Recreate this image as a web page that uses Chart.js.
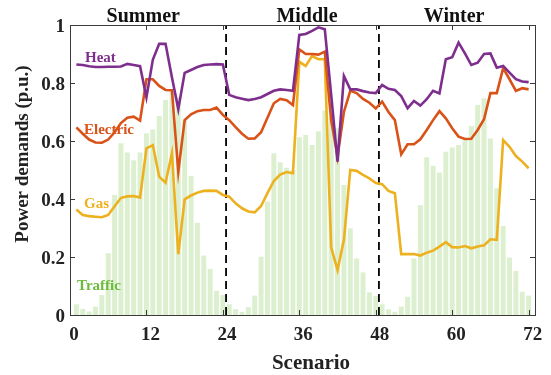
<!DOCTYPE html>
<html>
<head>
<meta charset="utf-8">
<script src="https://cdn.jsdelivr.net/npm/chart.js@4.4.1/dist/chart.umd.min.js"></script>
<style>
html,body{margin:0;padding:0;background:#fff;}
#c{display:block;}
</style>
</head>
<body>
<canvas id="c" width="551" height="375"></canvas>
<script>
// ---- data ----
const scenarios = Array.from({length: 72}, (_, i) => i + 1);
const heat = [
  0.864,0.862,0.858,0.855,0.855,0.856,0.856,0.857,0.866,0.862,0.858,0.750,
  0.880,0.935,0.935,0.820,0.710,0.835,0.845,0.855,0.862,0.864,0.865,0.864,
  0.759,0.751,0.746,0.741,0.745,0.751,0.762,0.773,0.778,0.776,0.773,0.966,
  0.969,0.980,0.992,0.985,0.760,0.529,0.824,0.778,0.778,0.772,0.767,0.765,
  0.793,0.780,0.776,0.755,0.713,0.738,0.722,0.744,0.773,0.764,0.882,0.889,
  0.939,0.902,0.862,0.870,0.900,0.902,0.853,0.859,0.836,0.813,0.805,0.803
];
const electric = [
  0.647,0.625,0.605,0.595,0.594,0.605,0.630,0.662,0.680,0.684,0.670,0.813,
  0.813,0.790,0.776,0.775,0.494,0.672,0.692,0.703,0.707,0.707,0.715,0.690,
  0.672,0.648,0.625,0.608,0.609,0.630,0.680,0.730,0.745,0.741,0.724,0.916,
  0.900,0.900,0.898,0.908,0.672,0.545,0.700,0.773,0.765,0.745,0.732,0.712,
  0.736,0.700,0.672,0.554,0.589,0.589,0.606,0.638,0.672,0.703,0.678,0.644,
  0.615,0.607,0.608,0.638,0.675,0.765,0.765,0.851,0.813,0.773,0.782,0.778
];
const gas = [
  0.364,0.345,0.341,0.339,0.337,0.345,0.375,0.404,0.409,0.410,0.405,0.575,
  0.586,0.477,0.456,0.557,0.210,0.399,0.412,0.422,0.428,0.429,0.428,0.414,
  0.408,0.385,0.368,0.357,0.354,0.376,0.420,0.462,0.484,0.493,0.489,0.873,
  0.859,0.893,0.882,0.882,0.233,0.155,0.259,0.500,0.497,0.483,0.471,0.455,
  0.451,0.428,0.420,0.210,0.210,0.210,0.205,0.215,0.222,0.236,0.251,0.234,
  0.233,0.238,0.230,0.236,0.240,0.261,0.259,0.603,0.580,0.548,0.529,0.506
];
const traffic = [
  0.037,0.021,0.012,0.029,0.069,0.213,0.414,0.592,0.560,0.534,0.560,0.627,
  0.640,0.686,0.741,0.770,0.750,0.672,0.479,0.318,0.205,0.159,0.083,0.069,
  0.037,0.020,0.011,0.027,0.067,0.201,0.391,0.558,0.527,0.508,0.500,0.613,
  0.621,0.586,0.634,0.705,0.680,0.644,0.448,0.299,0.195,0.147,0.078,0.066,
  0.037,0.020,0.011,0.029,0.063,0.195,0.379,0.544,0.515,0.491,0.563,0.578,
  0.586,0.603,0.652,0.724,0.747,0.609,0.437,0.307,0.198,0.152,0.080,0.067
];
const xTicks = [0, 12, 24, 36, 48, 60, 72];
const yTicks = [0, 0.2, 0.4, 0.6, 0.8, 1];
const yTickLabels = ['0', '0.2', '0.4', '0.6', '0.8', '1'];
const seasonNames = ['Summer', 'Middle', 'Winter'];
const seasonBounds = [24.5, 48.5];
const seriesNames = ['Heat', 'Electric', 'Gas', 'Traffic'];

// ---- styles ----
const C_HEAT = '#7E2F8E', C_ELEC = '#D95319', C_GAS = '#EDB120', C_TRAF = 'rgb(108,186,60)';
const C_BAR = 'rgb(220,240,208)';
const FONT = "'Liberation Serif', 'Times New Roman', serif";

const pts = arr => arr.map((v, i) => ({x: scenarios[i], y: v}));
const lineDs = (label, arr, color, order) => ({
  type: 'line', label, data: pts(arr), borderColor: color, backgroundColor: color,
  borderWidth: 2.6, pointRadius: 0, tension: 0, fill: false, order
});
const dashDs = (xv) => ({
  type: 'line', label: 'b' + xv, data: [{x: xv, y: 0}, {x: xv, y: 1}],
  borderColor: '#000', borderWidth: 1.8, borderDash: [8, 5], pointRadius: 0, fill: false, order: 3
});

const decor = {
  id: 'decor',
  afterDatasetsDraw(chart) {
    const {ctx, chartArea: a, scales: {x, y}} = chart;
    ctx.save();
    ctx.strokeStyle = '#3a3a3a';
    ctx.lineWidth = 1;
    ctx.strokeRect(Math.round(a.left) + 0.5, Math.round(a.top) + 0.5,
                   Math.round(a.right - a.left), Math.round(a.bottom - a.top));
    const tl = 5;
    ctx.beginPath();
    xTicks.forEach(v => {
      const px = Math.round(x.getPixelForValue(v)) + 0.5;
      ctx.moveTo(px, a.bottom); ctx.lineTo(px, a.bottom - tl);
      ctx.moveTo(px, a.top); ctx.lineTo(px, a.top + tl);
    });
    yTicks.forEach(v => {
      const py = Math.round(y.getPixelForValue(v)) + 0.5;
      ctx.moveTo(a.left, py); ctx.lineTo(a.left + tl, py);
      ctx.moveTo(a.right, py); ctx.lineTo(a.right - tl, py);
    });
    ctx.stroke();

    // season labels
    ctx.fillStyle = '#111';
    ctx.font = 'bold 20px ' + FONT;
    ctx.textAlign = 'center';
    ctx.textBaseline = 'alphabetic';
    const seasonX = [11.5, 37.2, 60.3];
    seasonNames.forEach((s, i) => ctx.fillText(s, x.getPixelForValue(seasonX[i]), 22));

    // series labels
    ctx.font = 'bold 15px ' + FONT;
    ctx.textAlign = 'left';
    const lab = [[C_HEAT, 85, 62], [C_ELEC, 84, 134], [C_GAS, 84, 208], [C_TRAF, 77, 290]];
    seriesNames.forEach((n, i) => { ctx.fillStyle = lab[i][0]; ctx.fillText(n, lab[i][1], lab[i][2]); });

    // axis titles
    ctx.fillStyle = '#222';
    ctx.font = 'bold 21px ' + FONT;
    ctx.textAlign = 'center';
    ctx.fillText('Scenario', 311, 369);
    ctx.save();
    ctx.translate(28, 154);
    ctx.rotate(-Math.PI / 2);
    ctx.font = 'bold 19px ' + FONT;
    ctx.fillText('Power demands (p.u.)', 0, 0);
    ctx.restore();
    ctx.restore();
  }
};

new Chart(document.getElementById('c'), {
  type: 'line',
  data: {
    datasets: [
      lineDs('Heat', heat, C_HEAT, 0),
      lineDs('Electric', electric, C_ELEC, 1),
      lineDs('Gas', gas, C_GAS, 2),
      dashDs(seasonBounds[0]),
      dashDs(seasonBounds[1]),
      {type: 'bar', label: 'Traffic', data: pts(traffic), backgroundColor: C_BAR,
       borderWidth: 0, barPercentage: 0.78, categoryPercentage: 1.0, order: 5}
    ]
  },
  options: {
    responsive: false,
    animation: false,
    devicePixelRatio: 1,
    layout: {padding: {left: 0, right: 16, top: 25, bottom: 0}},
    plugins: {legend: {display: false}, tooltip: {enabled: false}, title: {display: false}},
    scales: {
      x: {
        type: 'linear', min: 0, max: 73, offset: false,
        grid: {display: false, drawTicks: false}, border: {display: false},
        afterBuildTicks: s => { s.ticks = xTicks.map(v => ({value: v})); },
        afterFit: s => { s.height = 60; },
        ticks: {autoSkip: false, maxRotation: 0, padding: 9, labelOffset: 4, color: '#222',
                font: {family: FONT, size: 19, weight: 'bold'}}
      },
      y: {
        type: 'linear', min: 0, max: 1,
        grid: {display: false, drawTicks: false}, border: {display: false},
        afterBuildTicks: s => { s.ticks = yTicks.map(v => ({value: v})); },
        afterFit: s => { s.width = 70; },
        ticks: {padding: 5, labelOffset: 2, color: '#222',
                callback: v => yTickLabels[yTicks.indexOf(v)] ?? '',
                font: {family: FONT, size: 19, weight: 'bold'}}
      }
    }
  },
  plugins: [decor]
});
</script>
</body>
</html>
